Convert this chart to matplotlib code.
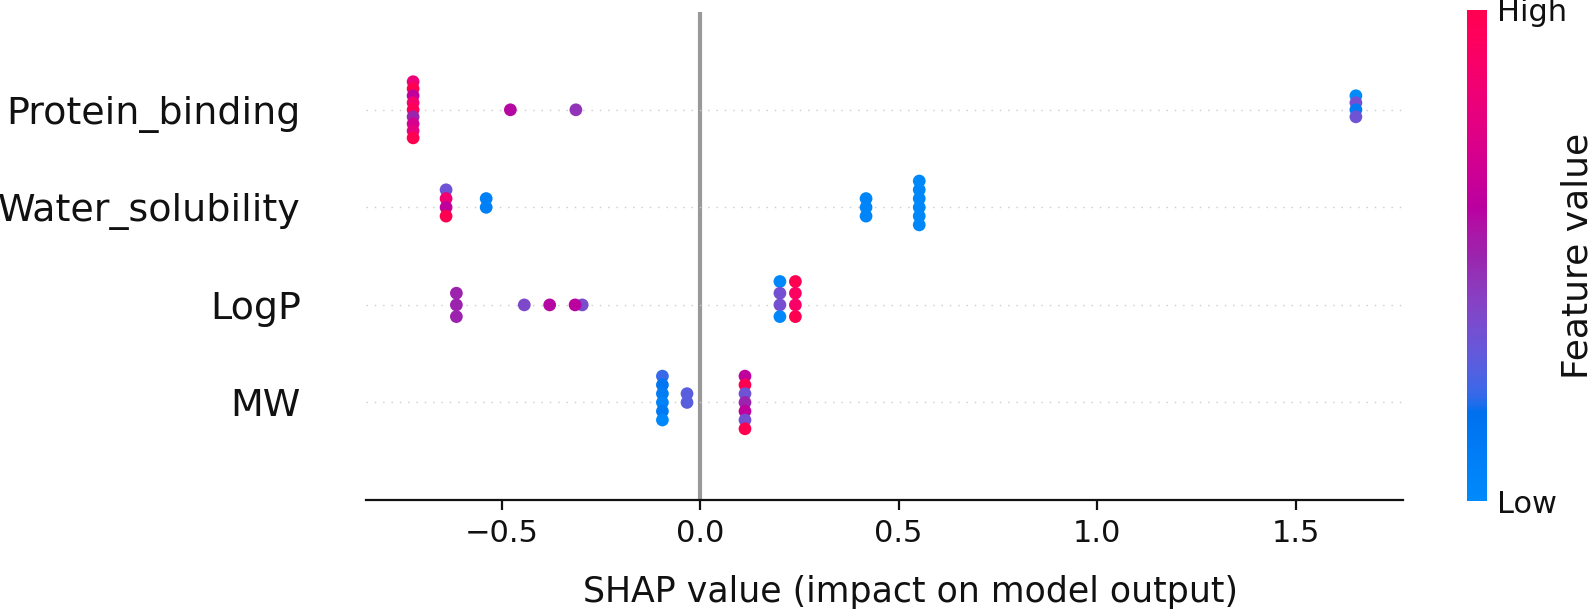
import numpy as np
import matplotlib
matplotlib.use("Agg")
import matplotlib.pyplot as plt
from matplotlib.colors import LinearSegmentedColormap

# features from bottom (row 0) to top (row 3)
feature_names = ["MW", "LogP", "Water_solubility", "Protein_binding"]

# SHAP values, each stacked column listed top to bottom
mw_shap = [-0.095, -0.095, -0.095, -0.095, -0.095, -0.095,
           -0.033, -0.033,
           0.113, 0.113, 0.113, 0.113, 0.113, 0.113, 0.113]
mw_value = [0.22, 0.14, 0.10, 0.06, 0.12, 0.03,
            0.28, 0.28,
            0.62, 1.00, 0.33, 0.50, 0.62, 0.35, 1.00]

logp_shap = [-0.614, -0.614, -0.614, -0.443, -0.379, -0.297, -0.315,
             0.201, 0.201, 0.201, 0.201,
             0.240, 0.240, 0.240, 0.240]
logp_value = [0.50, 0.50, 0.50, 0.38, 0.58, 0.36, 0.60,
              0.02, 0.35, 0.35, 0.02,
              1.00, 0.93, 0.90, 1.00]

water_shap = [-0.640, -0.640, -0.640, -0.640,
              -0.539, -0.539,
              0.418, 0.418, 0.418,
              0.552, 0.552, 0.552, 0.552, 0.552, 0.552]
water_value = [0.33, 0.85, 0.62, 1.00,
               0.08, 0.08,
               0.04, 0.04, 0.04,
               0.02, 0.02, 0.02, 0.02, 0.02, 0.02]

protein_shap = [-0.723, -0.723, -0.723, -0.723, -0.723, -0.723, -0.723, -0.723, -0.723,
                -0.478, -0.313,
                1.652, 1.652, 1.652, 1.652]
protein_value = [0.82, 1.00, 0.62, 0.88, 0.97, 0.50, 0.70, 0.78, 1.00,
                 0.58, 0.45,
                 0.00, 0.35, 0.12, 0.33]

all_shap = [mw_shap, logp_shap, water_shap, protein_shap]
all_value = [mw_value, logp_value, water_value, protein_value]


def lch2rgb(l, c, h):
    # LCH -> Lab -> XYZ (D65) -> sRGB, clipped
    a = c * np.cos(h)
    b = c * np.sin(h)
    y = (l + 16.0) / 116.0
    x = a / 500.0 + y
    z = max(y - b / 200.0, 0.0)
    xyz = np.array([x, y, z])
    big = xyz > 0.2068966
    xyz = np.where(big, xyz ** 3, (xyz - 16.0 / 116.0) / 7.787)
    xyz *= np.array([0.95047, 1.0, 1.08883])
    m = np.array([[3.24048134, -1.53715152, -0.49853633],
                  [-0.96925495, 1.87599, 0.04155593],
                  [0.05564664, -0.20404134, 1.05731107]])
    rgb = m @ xyz
    rgb = np.where(rgb > 0.0031308, 1.055 * np.abs(rgb) ** (1 / 2.4) - 0.055, 12.92 * rgb)
    return np.clip(rgb, 0, 1)


def red_blue_cmap():
    blue_lch = [54., 70., 4.6588]
    red_lch = [54., 90., 0.35470565 + 2 * np.pi]
    l_mid = 40.
    n = 100
    ls = list(np.linspace(blue_lch[0], l_mid, n // 2)) + list(np.linspace(l_mid, red_lch[0], n // 2))
    cs = np.linspace(blue_lch[1], red_lch[1], n)
    hs = np.linspace(blue_lch[2], red_lch[2], n)
    cols = [lch2rgb(l, c, h) for l, c, h in zip(ls, cs, hs)]
    return LinearSegmentedColormap.from_list("red_blue", cols)


def swarm_offsets(shaps, row_height=0.4):
    ys = np.zeros(len(shaps))
    groups = {}
    for i, s in enumerate(shaps):
        groups.setdefault(s, []).append(i)
    for idx in groups.values():
        top = len(idx) // 2
        for k, i in enumerate(idx):
            ys[i] = top - k
    return ys * 0.9 * (row_height / np.max(ys + 1))


cmap = red_blue_cmap()
axis_color = "#111111"

fig = plt.figure(figsize=(7.97, 3.06), dpi=200)
ax = fig.add_axes([0.2296, 0.183, 0.6506, 0.797])

ax.axvline(x=0, color="#999999", zorder=-1)
for pos in range(len(feature_names)):
    ax.axhline(y=pos, color="#cccccc", lw=0.5, dashes=(1, 5), zorder=-1)
    shaps = np.array(all_shap[pos])
    ys = swarm_offsets(all_shap[pos])
    sc = ax.scatter(shaps, pos + ys, c=all_value[pos], cmap=cmap, vmin=0, vmax=1,
                    s=21, linewidth=0, zorder=3)

ax.xaxis.set_ticks_position("bottom")
ax.yaxis.set_ticks_position("none")
for side in ["right", "top", "left"]:
    ax.spines[side].set_visible(False)
ax.spines["bottom"].set_color(axis_color)
ax.tick_params(color=axis_color, labelcolor=axis_color)
ax.set_yticks(range(len(feature_names)))
ax.set_yticklabels(feature_names, fontsize=13.7)
ax.tick_params("y", length=20, width=0.5, which="major")
ax.tick_params("x", labelsize=11)
ax.set_ylim(-1, len(feature_names))
ax.set_xlabel("SHAP value (impact on model output)", fontsize=12.5, color=axis_color)
ax.xaxis.set_label_coords(0.525, -0.154)

cax = fig.add_axes([0.9203, 0.181, 0.01255, 0.803])
cb = fig.colorbar(sc, cax=cax, ticks=[0, 1])
cb.set_ticklabels(["Low", "High"])
cb.ax.tick_params(labelsize=11, length=0, labelcolor=axis_color)
cb.outline.set_visible(False)
cb.ax.text(5.55, 0.5, "Feature value", rotation=90, fontsize=13, color=axis_color,
           ha="center", va="center", transform=cb.ax.transAxes)

fig.savefig("out.png", dpi=200)
